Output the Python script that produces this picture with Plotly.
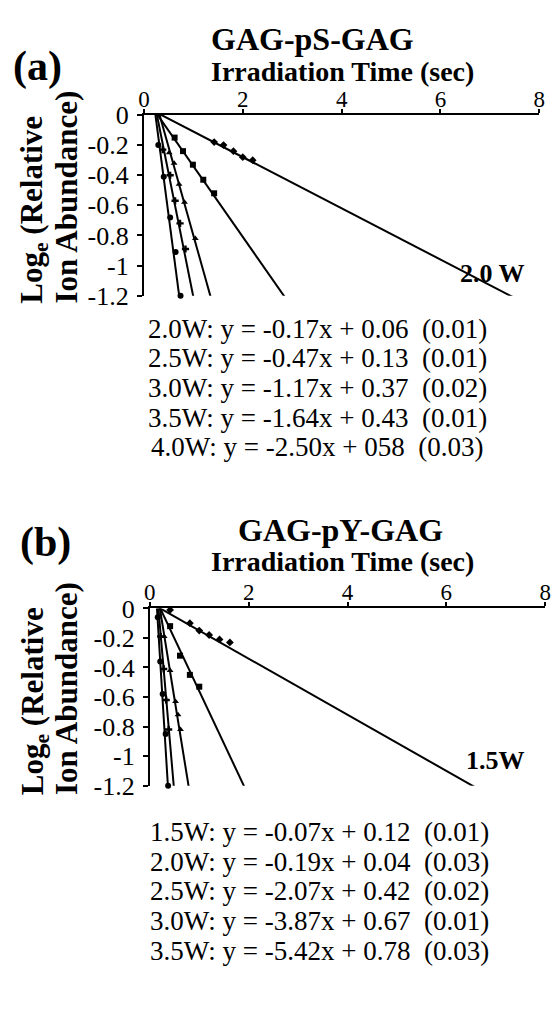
import plotly.graph_objects as go

W, H = 559, 1009

# ---------------- Panel (a): GAG-pS-GAG ----------------
a_names = ["2.0W", "2.5W", "3.0W", "3.5W", "4.0W"]
a_slope = [-0.17, -0.47, -1.17, -1.64, -2.50]
a_intercept = [0.06, 0.13, 0.37, 0.43, 0.58]
a_x_20 = [1.42, 1.61, 1.81, 2.00, 2.20]
a_y_20 = [-0.18, -0.20, -0.24, -0.28, -0.30]
a_x_25 = [0.62, 0.79, 0.99, 1.20, 1.42]
a_y_25 = [-0.15, -0.24, -0.33, -0.43, -0.52]
a_x_30 = [0.51, 0.61, 0.71, 0.82, 1.04]
a_y_30 = [-0.25, -0.32, -0.46, -0.58, -0.82]
a_x_35 = [0.38, 0.53, 0.63, 0.73, 0.84]
a_y_35 = [-0.23, -0.40, -0.57, -0.72, -0.89]
a_x_40 = [0.29, 0.40, 0.53, 0.64, 0.74]
a_y_40 = [-0.20, -0.41, -0.68, -0.91, -1.20]
a_eqs = ["2.0W: y = -0.17x + 0.06\u00a0\u00a0(0.01)",
         "2.5W: y = -0.47x + 0.13\u00a0\u00a0(0.01)",
         "3.0W: y = -1.17x + 0.37\u00a0\u00a0(0.02)",
         "3.5W: y = -1.64x + 0.43\u00a0\u00a0(0.01)",
         "4.0W: y = -2.50x + 058\u00a0\u00a0(0.03)"]

# ---------------- Panel (b): GAG-pY-GAG ----------------
b_slope = [-0.19, -0.71, -2.07, -3.87, -5.42]
b_intercept = [0.04, 0.15, 0.42, 0.67, 0.78]
b_x_1 = [0.41, 0.81, 1.00, 1.20, 1.41, 1.62]
b_y_1 = [-0.01, -0.10, -0.15, -0.18, -0.21, -0.23]
b_x_2 = [0.41, 0.61, 0.81, 1.00]
b_y_2 = [-0.12, -0.32, -0.45, -0.53]
b_x_3 = [0.29, 0.41, 0.52, 0.57, 0.62]
b_y_3 = [-0.19, -0.42, -0.63, -0.72, -0.82]
b_x_4 = [0.22, 0.28, 0.33, 0.38]
b_y_4 = [-0.19, -0.41, -0.62, -0.82]
b_x_5 = [0.16, 0.21, 0.26, 0.32, 0.37]
b_y_5 = [-0.06, -0.36, -0.58, -0.85, -1.20]
b_eqs = ["1.5W: y = -0.07x + 0.12\u00a0\u00a0(0.01)",
         "2.0W: y = -0.19x + 0.04\u00a0\u00a0(0.03)",
         "2.5W: y = -2.07x + 0.42\u00a0\u00a0(0.02)",
         "3.0W: y = -3.87x + 0.67\u00a0\u00a0(0.01)",
         "3.5W: y = -5.42x + 0.78\u00a0\u00a0(0.03)"]

x_ticks = [0, 2, 4, 6, 8]
x_ticktext = ["0", "2", "4", "6", "8"]
y_ticks = [0, -0.2, -0.4, -0.6, -0.8, -1, -1.2]
y_ticktext = ["0", "-0.2", "-0.4", "-0.6", "-0.8", "-1", "-1.2"]
x_span = [0, 8]

SERIF = "Liberation Serif, Times New Roman, serif"
fig = go.Figure()

a_points = [(a_x_20, a_y_20), (a_x_25, a_y_25), (a_x_30, a_y_30), (a_x_35, a_y_35), (a_x_40, a_y_40)]
b_points = [(b_x_1, b_y_1), (b_x_2, b_y_2), (b_x_3, b_y_3), (b_x_4, b_y_4), (b_x_5, b_y_5)]
symbols = ["diamond", "square", "triangle-up", "cross", "circle"]

for slopes, icpts, pts, xa, ya in [(a_slope, a_intercept, a_points, "x", "y"),
                                   (b_slope, b_intercept, b_points, "x2", "y2")]:
    for i, (m, b) in enumerate(zip(slopes, icpts)):
        fig.add_trace(go.Scatter(x=x_span, y=[m * v + b for v in x_span], mode="lines",
                                 line=dict(color="black", width=2), xaxis=xa, yaxis=ya,
                                 showlegend=False, hoverinfo="skip"))
        px_, py_ = pts[i]
        fig.add_trace(go.Scatter(x=px_, y=py_, mode="markers",
                                 marker=dict(color="black", size=6, symbol=symbols[i]),
                                 xaxis=xa, yaxis=ya, showlegend=False, cliponaxis=False))

def px2x(p):
    return p / W

def px2y(p):
    return 1 - p / H

common = dict(showline=True, linecolor="black", linewidth=2, ticks="outside",
              tickcolor="black", tickwidth=1.5, showgrid=False, zeroline=False)
xfont = dict(family=SERIF, size=23, color="black")
yfont = dict(family=SERIF, size=26, color="black")

fig.update_layout(
    width=W, height=H, margin=dict(l=0, r=0, t=0, b=0),
    paper_bgcolor="white", plot_bgcolor="white", showlegend=False,
    xaxis=dict(domain=[px2x(141), px2x(545)], range=[0, 8], side="top", anchor="y",
               tickvals=x_ticks, ticktext=x_ticktext, ticklen=4, tickfont=xfont,
               ticklabelstandoff=-7, **common),
    yaxis=dict(domain=[px2y(290), px2y(104)], range=[-1.2, 0], anchor="x",
               tickvals=y_ticks, ticktext=y_ticktext, ticklen=5, tickfont=yfont,
               ticklabelstandoff=3, **common),
    xaxis2=dict(domain=[px2x(147), px2x(551)], range=[0, 8], side="top", anchor="y2",
                tickvals=x_ticks, ticktext=x_ticktext, ticklen=4, tickfont=xfont,
                ticklabelstandoff=-7, **common),
    yaxis2=dict(domain=[px2y(794.5), px2y(612)], range=[-1.2, 0], anchor="x2",
                tickvals=y_ticks, ticktext=y_ticktext, ticklen=5, tickfont=yfont,
                ticklabelstandoff=3, **common),
)

ann = []
def text(x, y, s, size, bold=False, xanchor="center", yanchor="middle", **kw):
    ann.append(dict(x=px2x(x), y=px2y(y), xref="paper", yref="paper", text=f"<b>{s}</b>" if bold else s,
                    showarrow=False, xanchor=xanchor, yanchor=yanchor,
                    font=dict(family=SERIF, size=size, color="black"), **kw))

# panel labels
text(32, 54, "(a)", 42, bold=True)
text(40, 544, "(b)", 42, bold=True)
# titles
text(207, 26, "GAG-pS-GAG", 32, bold=True, xanchor="left")
text(207, 59, "Irradiation Time (sec)", 28, bold=True, xanchor="left")
text(342, 531, "GAG-pY-GAG", 32, bold=True)
text(344, 564, "Irradiation Time (sec)", 28, bold=True)
# y titles (two rotated lines)
for ybot in (300, 806):
    for xc, line in ((29, "<b>Log<sub>e</sub> (Relative</b>"), (62, "<b>Ion Abundance)</b>")):
        ann.append(dict(x=px2x(xc), y=px2y(ybot), xref="paper", yref="paper",
                        text=line, textangle=-90, showarrow=False,
                        xanchor="center", yanchor="bottom",
                        font=dict(family=SERIF, size=31, color="black")))
# series labels
ann.append(dict(x=7.05, y=-1.05, xref="x", yref="y", text="<b>2.0 W</b>", showarrow=False,
                font=dict(family=SERIF, size=26, color="black")))
ann.append(dict(x=7.0, y=-1.03, xref="x2", yref="y2", text="<b>1.5W</b>", showarrow=False,
                font=dict(family=SERIF, size=26, color="black")))
# equations
for i, s in enumerate(a_eqs):
    text(318, 324 + 30.5 * i, s, 27)
for i, s in enumerate(b_eqs):
    text(320, 842 + 30.7 * i, s, 27)

fig.update_layout(annotations=ann)
fig.write_html("out.html")
